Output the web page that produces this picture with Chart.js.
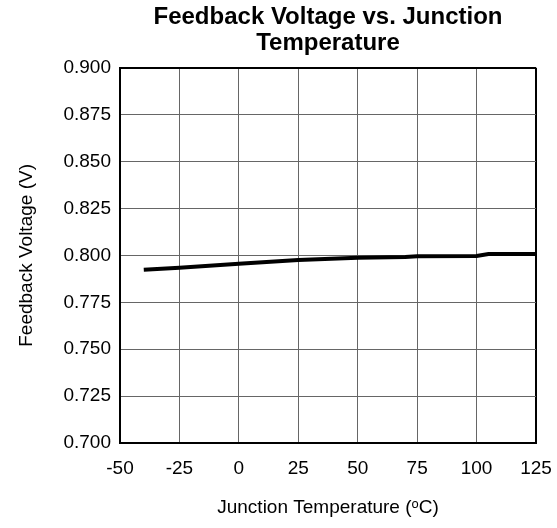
<!DOCTYPE html>
<html>
<head>
<meta charset="utf-8">
<script src="https://cdn.jsdelivr.net/npm/chart.js@4/dist/chart.umd.min.js"></script>
<style>
  html, body { margin: 0; padding: 0; background: #fff; }
  canvas { display: block; }
</style>
</head>
<body>
<canvas id="fbChart" width="557" height="528"></canvas>
<script>
// Данные
const temperatures = [-40, -25, 0, 25, 50, 70, 75, 100, 105, 125];
const feedbackVolts = [0.7923, 0.7934, 0.7955, 0.7975, 0.7987, 0.7992, 0.7995, 0.7997, 0.8007, 0.8008];

const chartTitle = ['Feedback Voltage vs. Junction', 'Temperature'];
const xTitle = 'Junction Temperature (\u1D52C)';
const yTitle = 'Feedback Voltage (V)';

const FONT = "'Liberation Sans', Arial, Helvetica, sans-serif";

// края рамки - чёрные и толще
function edgeColor(ctx) {
    const n = ctx.chart.scales[ctx.scale.id].ticks.length;
    return (ctx.index === 0 || ctx.index === n - 1) ? '#000' : '#666';
}
function edgeWidth(ctx) {
    const n = ctx.chart.scales[ctx.scale.id].ticks.length;
    return (ctx.index === 0 || ctx.index === n - 1) ? 2 : 1;
}

const ctx = document.getElementById('fbChart').getContext('2d');

new Chart(ctx, {
    type: 'line',
    data: {
        datasets: [{
            data: temperatures.map((t, i) => ({ x: t, y: feedbackVolts[i] })),
            borderColor: '#000',
            borderWidth: 4,
            pointRadius: 0,
            tension: 0,
            fill: false
        }]
    },
    options: {
        responsive: false,
        animation: false,
        layout: { padding: { top: 0, right: 21, bottom: 0, left: 0 } },
        plugins: {
            legend: { display: false },
            tooltip: { enabled: false },
            title: {
                display: true,
                text: chartTitle,
                fullSize: false,
                color: '#000',
                font: { family: FONT, size: 24, weight: 'bold', lineHeight: 1.1 },
                padding: { top: 4, bottom: 11 }
            }
        },
        scales: {
            x: {
                type: 'linear',
                min: -50,
                max: 125,
                ticks: {
                    stepSize: 25,
                    color: '#000',
                    font: { family: FONT, size: 19 },
                    padding: 14,
                    maxRotation: 0
                },
                grid: { color: edgeColor, lineWidth: edgeWidth, drawTicks: false },
                border: { color: '#000', width: 2 },
                title: {
                    display: true,
                    text: xTitle,
                    color: '#000',
                    font: { family: FONT, size: 19 },
                    padding: { top: 4, bottom: 9 }
                },
                afterFit: function (scale) {
                    scale.height = 85;
                    scale.paddingLeft = 0;
                    scale.paddingRight = 0;
                }
            },
            y: {
                type: 'linear',
                min: 0.7,
                max: 0.9,
                ticks: {
                    stepSize: 0.025,
                    color: '#000',
                    font: { family: FONT, size: 19 },
                    padding: 9,
                    callback: v => v.toFixed(3)
                },
                grid: { color: edgeColor, lineWidth: edgeWidth, drawTicks: false },
                border: { color: '#000', width: 2 },
                title: {
                    display: true,
                    text: yTitle,
                    color: '#000',
                    font: { family: FONT, size: 19 },
                    padding: { top: 15, bottom: 4 }
                },
                afterFit: function (scale) { scale.width = 120; }
            }
        }
    }
});
</script>
</body>
</html>
